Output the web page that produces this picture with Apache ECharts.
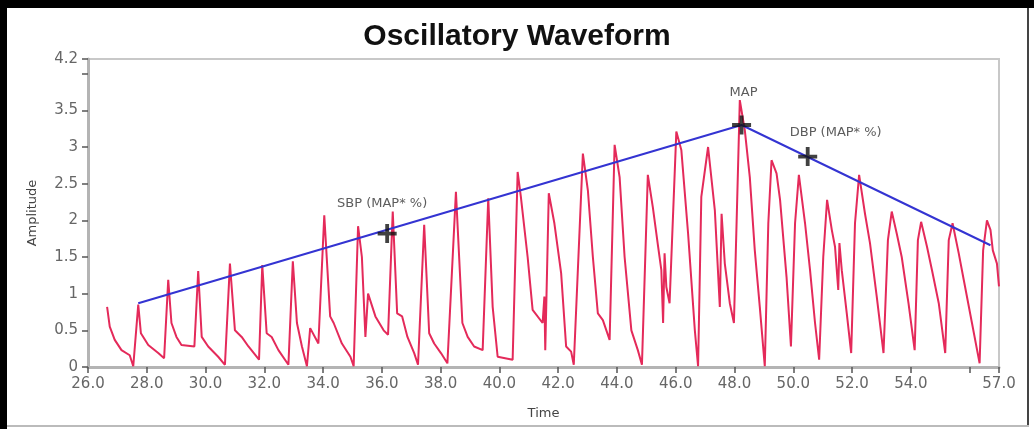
<!DOCTYPE html>
<html>
<head>
<meta charset="utf-8">
<script src="https://cdn.jsdelivr.net/npm/echarts@6/dist/echarts.min.js"></script>
<style>
  html, body { margin: 0; padding: 0; background: #fff; }
  #main { width: 1034px; height: 429px; }
</style>
</head>
<body>
<div id="main"></div>
<script>
// waveform samples
var time = [26.65,26.74,26.91,27.14,27.42,27.54,27.71,27.80,28.05,28.39,28.59,28.73,28.84,29.01,29.18,29.62,29.75,29.87,30.09,30.43,30.66,30.83,31.00,31.23,31.46,31.82,31.93,32.08,32.25,32.48,32.82,32.97,33.11,33.28,33.45,33.56,33.84,34.04,34.24,34.36,34.64,34.93,35.04,35.19,35.32,35.44,35.53,35.78,36.06,36.21,36.37,36.52,36.69,
  36.87,37.10,37.23,37.44,37.61,37.78,38.01,38.23,38.52,38.74,38.92,39.14,39.43,39.62,39.77,39.94,40.45,40.62,40.73,40.96,41.13,41.47,41.53,41.56,41.68,41.87,42.10,42.27,42.44,42.53,42.84,43.01,43.18,43.35,43.52,43.75,43.92,44.09,44.26,44.49,44.71,44.85,45.05,45.22,45.40,45.51,45.57,45.62,45.68,45.79,46.02,46.19,46.42,46.65,46.76,46.87,47.10,
  47.33,47.50,47.56,47.67,47.84,47.98,48.07,48.18,48.35,48.52,48.69,48.86,49.03,49.15,49.26,49.43,49.55,49.77,49.92,50.06,50.19,50.40,50.57,50.74,50.88,51.02,51.15,51.31,51.42,51.53,51.57,51.65,51.82,51.97,52.10,52.24,52.44,52.61,52.84,53.07,53.22,53.35,53.52,53.69,53.92,54.13,54.24,54.35,54.55,54.72,54.95,55.17,55.29,55.42,55.63,55.80,56.08,56.34,56.46,56.59,56.71,56.79,56.93,57.00];
var amplitude = [0.82,0.55,0.37,0.23,0.16,0.01,0.85,0.46,0.30,0.19,0.12,1.19,0.60,0.41,0.30,0.28,1.31,0.41,0.28,0.14,0.03,1.41,0.50,0.41,0.28,0.10,1.39,0.46,0.41,0.23,0.03,1.44,0.60,0.28,0.01,0.53,0.32,2.07,0.69,0.60,0.32,0.14,0.01,1.92,1.50,0.41,1.00,0.69,0.50,0.44,2.12,0.73,0.69,
  0.41,0.19,0.03,1.94,0.46,0.32,0.19,0.05,2.39,0.60,0.41,0.28,0.23,2.30,0.82,0.14,0.10,2.66,2.32,1.50,0.78,0.60,0.96,0.23,2.37,1.96,1.28,0.28,0.21,0.03,2.91,2.41,1.50,0.73,0.64,0.37,3.03,2.59,1.50,0.50,0.23,0.03,2.62,2.18,1.64,1.32,0.60,1.55,1.09,0.87,3.21,2.96,1.82,0.50,0.01,2.32,3.00,
  2.14,0.82,2.09,1.41,0.87,0.60,1.96,3.64,3.23,2.59,1.59,0.82,0.01,1.96,2.82,2.64,2.28,1.23,0.28,1.96,2.62,1.96,1.32,0.60,0.10,1.50,2.28,1.87,1.64,1.05,1.69,1.32,0.73,0.19,1.96,2.62,2.09,1.69,0.96,0.19,1.73,2.12,1.82,1.50,0.87,0.23,1.73,1.98,1.64,1.32,0.87,0.19,1.73,1.96,1.55,1.19,0.60,0.05,1.59,2.00,1.87,1.59,1.41,1.10];

// envelope line through the peaks
var envTime = [27.71, 48.24, 56.71];
var envAmp = [0.87, 3.30, 1.66];

// pressure markers
var markerNames = ['SBP (MAP* %)', 'MAP', 'DBP (MAP* %)'];
var markerTime = [36.18, 48.24, 50.49];
var markerAmp = [1.82, 3.30, 2.87];
var markerLabelOffset = [[-5, 0], [2, -2], [28, 6]];

function pairs(xs, ys) {
  var out = [];
  for (var i = 0; i < xs.length; i++) out.push([xs[i], ys[i]]);
  return out;
}

var plus = 'path://M-1.8,-9L1.8,-9L1.8,-1.8L9,-1.8L9,1.8L1.8,1.8L1.8,9L-1.8,9L-1.8,1.8L-9,1.8L-9,-1.8L-1.8,-1.8Z';

var markerData = markerNames.map(function (n, i) {
  return {
    name: n,
    value: [markerTime[i], markerAmp[i]],
    label: { offset: markerLabelOffset[i] }
  };
});

var myChart = echarts.init(document.getElementById('main'));
myChart.setOption({
  backgroundColor: '#ffffff',
  animation: false,
  title: {
    text: 'Oscillatory Waveform',
    left: 'center',
    top: 17,
    textStyle: { fontFamily: 'Liberation Sans', fontWeight: 'bold', fontSize: 30, color: '#111' }
  },
  graphic: [
    { type: 'rect', shape: { x: 0, y: 0, width: 1034, height: 8 }, style: { fill: '#000' } },
    { type: 'rect', shape: { x: 0, y: 0, width: 7, height: 429 }, style: { fill: '#000' } },
    { type: 'rect', shape: { x: 1027, y: 8, width: 2, height: 418 }, style: { fill: '#444' } },
    { type: 'rect', shape: { x: 7, y: 425, width: 1022, height: 2 }, style: { fill: '#bbb' } }
  ],
  grid: {
    left: 88, right: 35, top: 59, bottom: 62,
    show: true, borderColor: '#c8c8c8', borderWidth: 2
  },
  xAxis: {
    type: 'value',
    min: 26, max: 57, interval: 2,
    name: 'Time',
    nameLocation: 'middle',
    nameGap: 40,
    nameTextStyle: { fontFamily: 'DejaVu Sans', fontSize: 13, color: '#444' },
    splitLine: { show: false },
    axisLine: { lineStyle: { color: '#b4b4b4', width: 3 } },
    axisTick: { length: 6, lineStyle: { color: '#555', width: 1.5 } },
    axisLabel: {
      fontFamily: 'DejaVu Sans', fontSize: 15, color: '#666', margin: 10,
      formatter: function (v) { return v === 56 ? '' : v.toFixed(1); }
    }
  },
  yAxis: {
    type: 'value',
    min: 0, max: 4.2, interval: 0.5,
    name: 'Amplitude',
    nameLocation: 'middle',
    nameGap: 49,
    nameTextStyle: { fontFamily: 'DejaVu Sans', fontSize: 13, color: '#444' },
    splitLine: { show: false },
    axisLine: { show: true, lineStyle: { color: '#b4b4b4', width: 3 } },
    axisTick: { show: true, length: 6, lineStyle: { color: '#555', width: 1.5 } },
    axisLabel: {
      fontFamily: 'DejaVu Sans', fontSize: 15, color: '#666', margin: 10,
      formatter: function (v) { return v === 4 ? '' : String(v); }
    }
  },
  series: [
    {
      name: 'waveform',
      type: 'line',
      data: pairs(time, amplitude),
      showSymbol: false,
      lineStyle: { color: '#e42a5a', width: 2 },
      z: 2
    },
    {
      name: 'envelope',
      type: 'line',
      data: pairs(envTime, envAmp),
      showSymbol: false,
      lineStyle: { color: '#3434d2', width: 2 },
      z: 3
    },
    {
      name: 'markers',
      type: 'scatter',
      data: markerData,
      symbol: plus,
      symbolSize: 19,
      itemStyle: { color: '#111' },
      label: {
        show: true,
        position: 'top',
        distance: 14,
        formatter: '{b}',
        fontFamily: 'DejaVu Sans',
        fontSize: 13,
        color: '#333'
      },
      z: 4
    }
  ]
});
</script>
</body>
</html>
